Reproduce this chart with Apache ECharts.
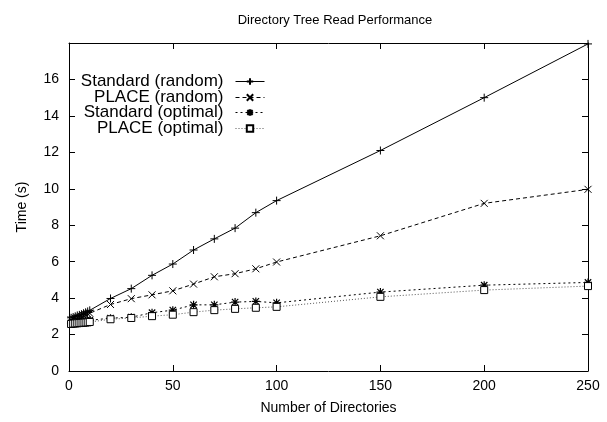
<!DOCTYPE html>
<html>
<head>
<meta charset="utf-8">
<script src="https://cdn.jsdelivr.net/npm/echarts@6/dist/echarts.min.js"></script>
<style>
  html, body { margin: 0; padding: 0; background: #fff; }
  #chart { width: 607px; height: 422px; }
</style>
</head>
<body>
<div id="chart"></div>
<script>
// number of directories read
const dirs = [1, 2, 3, 4, 5, 6, 7, 8, 9, 10, 20, 30, 40, 50, 60, 70, 80, 90, 100, 150, 200, 250];

// time in seconds
const standardRandom = [2.92, 2.96, 3.0, 3.05, 3.08, 3.12, 3.17, 3.22, 3.27, 3.33, 3.98, 4.52, 5.25, 5.87, 6.64, 7.25, 7.84, 8.69, 9.35, 12.1, 15.0, 17.95];
const placeRandom = [2.82, 2.86, 2.9, 2.93, 2.97, 3.0, 3.05, 3.09, 3.13, 3.17, 3.65, 3.97, 4.18, 4.4, 4.77, 5.17, 5.34, 5.61, 5.98, 7.42, 9.2, 9.97];
const standardOptimal = [2.64, 2.66, 2.67, 2.69, 2.7, 2.71, 2.73, 2.74, 2.76, 2.78, 2.9, 2.95, 3.2, 3.34, 3.63, 3.63, 3.78, 3.82, 3.74, 4.33, 4.71, 4.86];
const placeOptimal = [2.58, 2.6, 2.61, 2.62, 2.63, 2.64, 2.65, 2.66, 2.67, 2.69, 2.84, 2.91, 3.01, 3.09, 3.23, 3.34, 3.41, 3.47, 3.52, 4.07, 4.44, 4.66];

const seriesNames = ['Standard (random)', 'PLACE (random)', 'Standard (optimal)', 'PLACE (optimal)'];
const xTicks = { min: 0, max: 250, interval: 50 };
const yTicks = { min: 0, max: 18, interval: 2 };

const FONT = 'Liberation Sans';
const plusPath = 'path://M0,5 L10,5 M5,0 L5,10';
const crossPath = 'path://M0,0 L10,10 M10,0 L0,10';
const starPath = 'path://M0,5 L10,5 M5,0 L5,10 M1,1 L9,9 M9,1 L1,9';

function pairs(ys) {
    return dirs.map((x, i) => [x, ys[i]]);
}

const styles = [
    { data: standardRandom, symbol: plusPath, size: 8, line: { color: '#000', type: 'solid', width: 1 }, item: { color: 'none', borderColor: '#000', borderWidth: 1 } },
    { data: placeRandom, symbol: crossPath, size: 7, line: { color: '#000', type: [4, 3], width: 1 }, item: { color: 'none', borderColor: '#000', borderWidth: 1 } },
    { data: standardOptimal, symbol: starPath, size: 8, line: { color: '#000', type: [2, 3], width: 1 }, item: { color: 'none', borderColor: '#000', borderWidth: 1.2 } },
    { data: placeOptimal, symbol: 'rect', size: 7, line: { color: '#555', type: [1, 2], width: 1 }, item: { color: '#fff', borderColor: '#000', borderWidth: 1 } }
];

const series = styles.map((s, i) => ({
    name: seriesNames[i],
    type: 'line',
    data: pairs(s.data),
    symbol: s.symbol,
    symbolSize: s.size,
    showAllSymbol: true,
    lineStyle: s.line,
    itemStyle: s.item,
    animation: false
}));

// one legend per row so the samples line up on the right like gnuplot
const legendRows = [82, 98, 113, 129];
const legends = seriesNames.map((name, i) => ({
    data: [name],
    right: 342,
    top: legendRows[i] - 9,
    align: 'right',
    itemWidth: 29,
    itemHeight: 8,
    itemGap: 0,
    padding: 0,
    selectedMode: false,
    lineStyle: { width: 1 },
    textStyle: { fontFamily: FONT, fontSize: 17, color: '#000', padding: [0, 7, 0, 0] }
}));

const axisCommon = {
    axisLine: { show: true, onZero: false, lineStyle: { color: '#000', width: 1 } },
    axisTick: { show: true, inside: true, length: 6, lineStyle: { color: '#000' } },
    splitLine: { show: false }
};

const chart = echarts.init(document.getElementById('chart'));
chart.setOption({
    backgroundColor: '#fff',
    animation: false,
    title: {
        text: 'Directory Tree Read Performance',
        left: 330,
        top: 9,
        textAlign: 'center',
        textStyle: { fontFamily: FONT, fontSize: 13, fontWeight: 'normal', color: '#000' }
    },
    legend: legends,
    grid: { left: 69, right: 19, top: 43, bottom: 51, containLabel: false },
    xAxis: [
        Object.assign({
            type: 'value', position: 'bottom',
            min: xTicks.min, max: xTicks.max, interval: xTicks.interval,
            name: 'Number of Directories', nameLocation: 'middle', nameGap: 30,
            nameTextStyle: { fontFamily: FONT, fontSize: 14, color: '#000' },
            axisLabel: { fontFamily: FONT, fontSize: 14, color: '#000', margin: 8 }
        }, axisCommon),
        Object.assign({
            type: 'value', position: 'top',
            min: xTicks.min, max: xTicks.max, interval: xTicks.interval,
            axisLabel: { show: false }
        }, axisCommon)
    ],
    yAxis: [
        Object.assign({
            type: 'value', position: 'left',
            min: yTicks.min, max: yTicks.max, interval: yTicks.interval,
            name: 'Time (s)', nameLocation: 'middle', nameGap: 40, nameRotate: 90,
            nameTextStyle: { fontFamily: FONT, fontSize: 14, color: '#000' },
            axisLabel: {
                fontFamily: FONT, fontSize: 14, color: '#000', margin: 10,
                formatter: v => (v === 18 ? '' : String(v))
            }
        }, axisCommon),
        Object.assign({
            type: 'value', position: 'right',
            min: yTicks.min, max: yTicks.max, interval: yTicks.interval,
            axisLabel: { show: false }
        }, axisCommon)
    ],
    series: series
});
</script>
</body>
</html>
